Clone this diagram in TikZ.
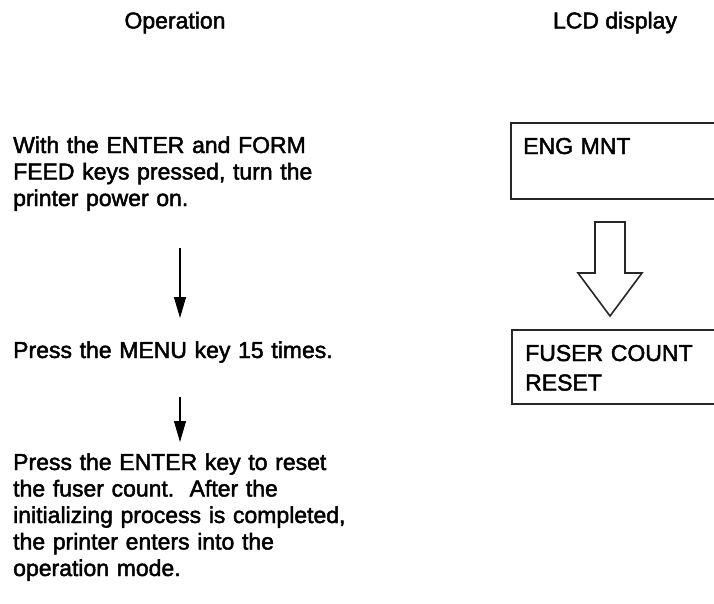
\documentclass[tikz,border=0pt]{standalone}
\usepackage{fontspec}
\setmainfont{Liberation Sans}[FakeBold=2]
\usetikzlibrary{arrows.meta}
\tikzset{
  x=1pt, y=-1pt,
  txt/.style={anchor=base west, inner sep=0pt, text width=340pt, align=left,
    font=\fontsize{23}{26.5}\selectfont},
  ttl/.style={anchor=base, inner sep=0pt, font=\fontsize{23}{26.5}\selectfont},
  lcd/.style={draw=black!85, line width=1.8pt},
  lcdtxt/.style={anchor=base west, inner sep=0pt, text width=180pt, align=left,
    font=\fontsize{23}{29.5}\selectfont},
  flow/.style={line width=1.1pt, -{Triangle[length=21pt,width=12pt]}},
  hollow/.style={draw=black!85, line width=1.6pt, line join=miter, fill=white}
}
\begin{document}
\begin{tikzpicture}
\useasboundingbox (0,0) rectangle (714,603);
\clip (0,0) rectangle (714,603);
% titles
\node[ttl] (t1) at (175,28.5) {Operation};
\node[ttl] (t2) at (615,28.5) {LCD display};
% operation steps
\node[txt] (s1) at (13,153) {With the ENTER and FORM\\FEED keys pressed, turn the\\printer power on.};
\node[txt] (s2) at (13,358) {Press the MENU key 15 times.};
\node[txt] (s3) at (13,470) {Press the ENTER key to reset\\the fuser count.\ \ After the\\initializing process is completed,\\the printer enters into the\\operation mode.};
\coordinate (a1s) at (180,248);
\coordinate (a1e) at (180,318);
\coordinate (a2s) at (180,397);
\coordinate (a2e) at (180,442);
\draw[flow] (a1s) -- (a1e);
\draw[flow] (a2s) -- (a2e);
% LCD boxes
\node[lcd, anchor=north west, minimum width=230pt, minimum height=76pt, inner sep=0pt] (b1) at (510,122) {};
\node[lcdtxt] (l1) at (523,154) {ENG MNT};
\node[lcd, anchor=north west, minimum width=230pt, minimum height=74pt, inner sep=0pt] (b2) at (511,329) {};
\node[lcdtxt] (l2) at (525,361) {FUSER COUNT\\RESET};
% hollow arrow
\draw[hollow] (595,222) -- (625,222) -- (625,273) -- (642,273) -- (610,316) -- (578,273) -- (595,273) -- cycle;
\end{tikzpicture}
\end{document}
